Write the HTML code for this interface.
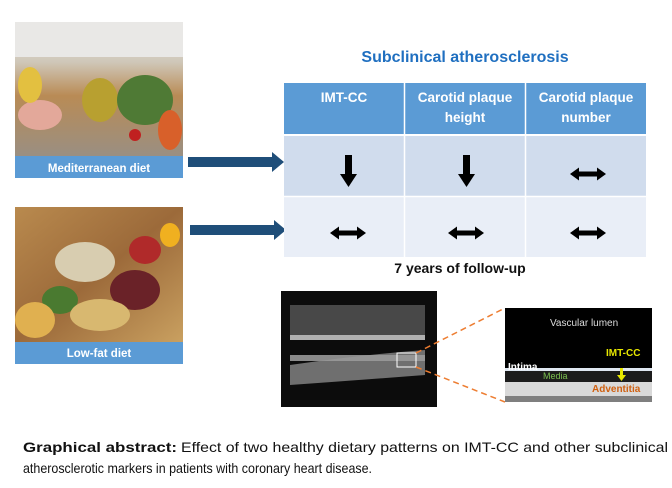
<!DOCTYPE html>
<html><head><meta charset="utf-8"><style>
html,body{margin:0;padding:0;background:#fff;}
svg{display:block;}
text{font-family:"Liberation Sans",sans-serif;}
</style></head><body>
<svg width="672" height="488" viewBox="0 0 672 488" xmlns="http://www.w3.org/2000/svg">
<defs>
<linearGradient id="med" x1="0" y1="0" x2="0" y2="1">
<stop offset="0" stop-color="#e8e6e2"/><stop offset="0.3" stop-color="#cfc7b8"/><stop offset="0.55" stop-color="#b98b55"/><stop offset="1" stop-color="#9a8f82"/></linearGradient>
<linearGradient id="low" x1="0" y1="0" x2="1" y2="1">
<stop offset="0" stop-color="#b98a4e"/><stop offset="0.5" stop-color="#9c6a3a"/><stop offset="1" stop-color="#c9a060"/></linearGradient>
<g id="dbl" fill="#000">
<rect x="-10" y="-2.5" width="20" height="5"/><polygon points="-18,0 -9,-6.5 -9,6.5"/><polygon points="18,0 9,-6.5 9,6.5"/>
</g>
</defs>
<!-- Mediterranean image -->
<rect x="15" y="22" width="168" height="134" fill="url(#med)"/>
<rect x="15" y="22" width="168" height="35" fill="#e9e8e6"/>
<ellipse cx="100" cy="100" rx="18" ry="22" fill="#b8a030"/>
<ellipse cx="145" cy="100" rx="28" ry="25" fill="#4f7a35"/>
<ellipse cx="170" cy="130" rx="12" ry="20" fill="#d8602a"/>
<ellipse cx="40" cy="115" rx="22" ry="15" fill="#e3a89a"/>
<ellipse cx="30" cy="85" rx="12" ry="18" fill="#e3c040"/>
<circle cx="135" cy="135" r="6" fill="#c02020"/>
<rect x="15" y="156" width="168" height="22" fill="#5b9bd5"/>
<text x="99" y="172" text-anchor="middle" font-size="11.5" font-weight="bold" fill="#fff">Mediterranean diet</text>
<!-- Low-fat image -->
<rect x="15" y="207" width="168" height="135" fill="url(#low)"/>
<ellipse cx="85" cy="262" rx="30" ry="20" fill="#d8cdb0"/>
<ellipse cx="145" cy="250" rx="16" ry="14" fill="#b02a2a"/>
<ellipse cx="135" cy="290" rx="25" ry="20" fill="#6a2228"/>
<ellipse cx="60" cy="300" rx="18" ry="14" fill="#4a7a30"/>
<ellipse cx="35" cy="320" rx="20" ry="18" fill="#e0b050"/>
<ellipse cx="170" cy="235" rx="10" ry="12" fill="#f0b020"/>
<ellipse cx="100" cy="315" rx="30" ry="16" fill="#d8b870"/>
<rect x="15" y="342" width="168" height="22" fill="#5b9bd5"/>
<text x="99" y="357" text-anchor="middle" font-size="11.5" font-weight="bold" fill="#fff">Low-fat diet</text>
<!-- connector arrows -->
<rect x="188" y="157" width="84" height="10" fill="#1f4e79"/>
<polygon points="272,152 284,162 272,172" fill="#1f4e79"/>
<rect x="190" y="225" width="84" height="10" fill="#1f4e79"/>
<polygon points="274,220 286,230 274,240" fill="#1f4e79"/>
<!-- title -->
<text x="465" y="62" text-anchor="middle" font-size="16" font-weight="bold" fill="#1f6fc0">Subclinical atherosclerosis</text>
<!-- table -->
<rect x="284" y="83" width="362" height="51" fill="#5b9bd5"/>
<rect x="284" y="136" width="362" height="60" fill="#d0dced"/>
<rect x="284" y="197" width="362" height="60" fill="#e9eef7"/>
<g stroke="#fff" stroke-width="1.5">
<line x1="404.5" y1="83" x2="404.5" y2="257"/><line x1="525.5" y1="83" x2="525.5" y2="257"/>
<line x1="284" y1="196.5" x2="646" y2="196.5"/></g>
<g font-size="13.5" font-weight="bold" fill="#fff" text-anchor="middle">
<text x="344" y="102">IMT-CC</text>
<text x="465" y="102">Carotid plaque</text><text x="465" y="122">height</text>
<text x="586" y="102">Carotid plaque</text><text x="586" y="122">number</text>
</g>
<!-- down arrows -->
<g fill="#000">
<rect x="345" y="155" width="7" height="20"/><polygon points="340,174 357,174 348.5,187"/>
<rect x="463" y="155" width="7" height="20"/><polygon points="458,174 475,174 466.5,187"/>
</g>
<use href="#dbl" x="588" y="174"/>
<use href="#dbl" x="348" y="233"/>
<use href="#dbl" x="466" y="233"/>
<use href="#dbl" x="588" y="233"/>
<text x="460" y="273" text-anchor="middle" font-size="14" font-weight="bold" fill="#111">7 years of follow-up</text>
<!-- ultrasound -->
<rect x="281" y="291" width="156" height="116" fill="#0c0c0c"/>
<rect x="290" y="305" width="135" height="30" fill="#7a7a7a" opacity="0.55"/>
<rect x="290" y="335" width="135" height="5" fill="#b0b0b0"/>
<rect x="290" y="355" width="135" height="6" fill="#8a8a8a"/>
<path d="M290 365 Q360 355 425 350 L425 375 Q360 380 290 385 Z" fill="#9a9a9a" opacity="0.7"/>
<rect x="397" y="353" width="19" height="14" fill="none" stroke="#fff" stroke-width="1"/>
<!-- dashed orange -->
<g stroke="#ed7d31" stroke-width="1.5" stroke-dasharray="6,4">
<line x1="416" y1="353" x2="505" y2="308"/><line x1="416" y1="367" x2="505" y2="402"/></g>
<!-- zoom box -->
<rect x="505" y="308" width="147" height="60" fill="#000"/>
<rect x="505" y="368" width="147" height="3" fill="#dfe7f1"/>
<rect x="505" y="371" width="147" height="11" fill="#1c1c1c"/>
<rect x="505" y="382" width="147" height="14" fill="#d9d9d9"/>
<rect x="505" y="396" width="147" height="6" fill="#7f7f7f"/>
<text x="550" y="326" font-size="10" fill="#ddd">Vascular lumen</text>
<text x="606" y="356" font-size="10" font-weight="bold" fill="#e8e800">IMT-CC</text>
<text x="508" y="370" font-size="10" font-weight="bold" fill="#fff">Intima</text>
<text x="543" y="379" font-size="9" fill="#7cc050">Media</text>
<text x="592" y="392" font-size="10" font-weight="bold" fill="#d06010">Adventitia</text>
<rect x="620" y="368" width="3" height="8" fill="#e8e800"/><polygon points="617,375 626,375 621.5,381" fill="#e8e800"/>
<!-- caption -->
<text x="23" y="452" font-size="14" font-weight="bold" fill="#111" textLength="154" lengthAdjust="spacingAndGlyphs">Graphical abstract:</text>
<text x="181" y="452" font-size="14" fill="#111" textLength="487" lengthAdjust="spacingAndGlyphs">Effect of two healthy dietary patterns on IMT-CC and other subclinical</text>
<text x="23" y="473" font-size="14" fill="#111" textLength="349" lengthAdjust="spacingAndGlyphs">atherosclerotic markers in patients with coronary heart disease.</text>
</svg>
</body></html>
